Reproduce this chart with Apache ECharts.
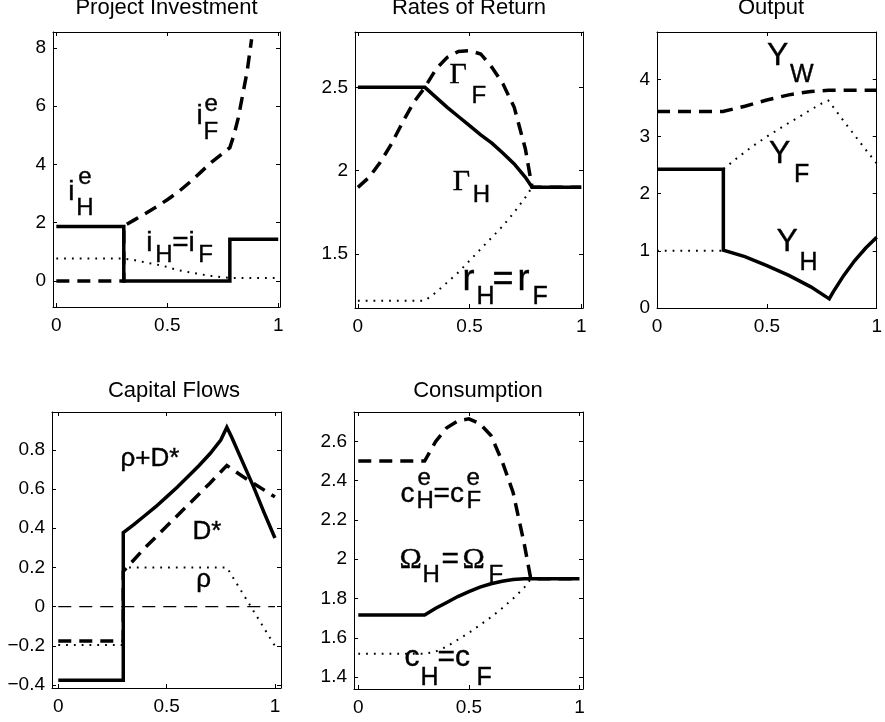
<!DOCTYPE html>
<html><head><meta charset="utf-8">
<script src="https://cdn.jsdelivr.net/npm/echarts@6/dist/echarts.min.js"></script>
<style>html,body{margin:0;padding:0;background:#fff}#c{width:885px;height:722px}</style>
</head><body><div id="c"></div>
<script>
// ================= DATA =================
const titles = ['Project Investment', 'Rates of Return', 'Output', 'Capital Flows', 'Consumption'];

const xTickValues = [0, 0.5, 1];
const xTickLabels = ['0', '0.5', '1'];

const invYTickValues = [0, 2, 4, 6, 8];
const invYTickLabels = ['0', '2', '4', '6', '8'];
const rorYTickValues = [1.5, 2, 2.5];
const rorYTickLabels = ['1.5', '2', '2.5'];
const outYTickValues = [0, 1, 2, 3, 4];
const outYTickLabels = ['0', '1', '2', '3', '4'];
const cfYTickValues = [-0.4, -0.2, 0, 0.2, 0.4, 0.6, 0.8];
const cfYTickLabels = ['\u22120.4', '\u22120.2', '0', '0.2', '0.4', '0.6', '0.8'];
const conYTickValues = [1.4, 1.6, 1.8, 2, 2.2, 2.4, 2.6];
const conYTickLabels = ['1.4', '1.6', '1.8', '2', '2.2', '2.4', '2.6'];

// Panel 1: Project Investment
const invSolidX = [0, 0.304, 0.304, 0.782, 0.782, 1];
const invSolidY = [1.87, 1.87, 0, 0, 1.43, 1.43];
const iFeX = [0, 0.304, 0.304, 0.35, 0.4, 0.45, 0.5, 0.55, 0.6, 0.65, 0.7, 0.75, 0.782, 0.8, 0.82, 0.84, 0.86, 0.88];
const iFeY = [0, 0, 1.89, 2.09, 2.31, 2.54, 2.79, 3.06, 3.38, 3.73, 4.08, 4.38, 4.58, 5.0, 5.6, 6.4, 7.2, 8.3];
const invDotX = [0, 0.304, 0.35, 0.4, 0.45, 0.5, 0.55, 0.6, 0.65, 0.7, 0.75, 0.782, 1];
const invDotY = [0.77, 0.77, 0.72, 0.64, 0.57, 0.48, 0.37, 0.3, 0.23, 0.17, 0.13, 0.1, 0.1];

// Panel 2: Rates of Return
const gHX = [0, 0.3, 0.35, 0.4, 0.45, 0.5, 0.55, 0.6, 0.65, 0.7, 0.75, 0.78, 1];
const gHY = [2.5, 2.5, 2.44, 2.38, 2.325, 2.27, 2.215, 2.165, 2.105, 2.04, 1.96, 1.9, 1.9];
const gFX = [0, 0.05, 0.1, 0.15, 0.2, 0.25, 0.3, 0.35, 0.4, 0.45, 0.5, 0.55, 0.6, 0.65, 0.7, 0.75, 0.78, 1];
const gFY = [1.9, 1.96, 2.05, 2.16, 2.29, 2.41, 2.5, 2.61, 2.68, 2.715, 2.72, 2.7, 2.62, 2.52, 2.38, 2.13, 1.9, 1.9];
const rX = [0, 0.3, 0.35, 0.4, 0.45, 0.5, 0.55, 0.6, 0.65, 0.7, 0.75, 0.78, 1];
const rY = [1.22, 1.22, 1.27, 1.33, 1.39, 1.46, 1.53, 1.6, 1.67, 1.75, 1.84, 1.9, 1.9];

// Panel 3: Output
const yHX = [0, 0.302, 0.302, 0.4, 0.5, 0.6, 0.7, 0.784, 0.8, 0.85, 0.9, 0.95, 1];
const yHY = [2.43, 2.43, 1.01, 0.9, 0.74, 0.57, 0.37, 0.16, 0.27, 0.57, 0.83, 1.05, 1.24];
const yWX = [0, 0.3, 0.4, 0.5, 0.6, 0.7, 0.78, 1];
const yWY = [3.44, 3.44, 3.53, 3.64, 3.73, 3.79, 3.81, 3.81];
const yFX = [0, 0.302, 0.302, 0.35, 0.4, 0.45, 0.5, 0.55, 0.6, 0.65, 0.7, 0.75, 0.78, 0.85, 0.9, 0.95, 1];
const yFY = [1.0, 1.0, 2.43, 2.58, 2.73, 2.87, 3.0, 3.12, 3.24, 3.35, 3.47, 3.58, 3.63, 3.27, 3.02, 2.77, 2.53];

// Panel 4: Capital Flows
const rdX = [0, 0.3, 0.3, 0.35, 0.4, 0.45, 0.5, 0.55, 0.6, 0.65, 0.7, 0.75, 0.778, 0.8, 0.85, 0.9, 0.95, 1];
const rdY = [-0.375, -0.375, 0.378, 0.42, 0.465, 0.51, 0.56, 0.61, 0.665, 0.72, 0.78, 0.85, 0.915, 0.865, 0.74, 0.615, 0.48, 0.35];
const dsX = [0, 0.3, 0.3, 0.4, 0.5, 0.6, 0.7, 0.778, 0.85, 0.9, 1];
const dsY = [-0.175, -0.175, 0.18, 0.3, 0.41, 0.52, 0.63, 0.72, 0.665, 0.63, 0.56];
const rhoX = [0, 0.3, 0.3, 0.778, 1];
const rhoY = [-0.195, -0.195, 0.2, 0.2, -0.2];
const zeroX = [0, 1];
const zeroY = [0, 0];

// Panel 5: Consumption
const ceX = [0, 0.3, 0.35, 0.4, 0.45, 0.5, 0.55, 0.6, 0.65, 0.7, 0.75, 0.78, 1];
const ceY = [2.5, 2.5, 2.6, 2.67, 2.705, 2.715, 2.69, 2.63, 2.5, 2.34, 2.08, 1.9, 1.9];
const omX = [0, 0.3, 0.35, 0.4, 0.45, 0.5, 0.55, 0.6, 0.65, 0.7, 0.75, 0.78, 1];
const omY = [1.716, 1.716, 1.75, 1.78, 1.81, 1.835, 1.858, 1.875, 1.888, 1.897, 1.9, 1.9, 1.9];
const cX = [0, 0.3, 0.35, 0.4, 0.45, 0.5, 0.55, 0.6, 0.65, 0.7, 0.75, 0.78, 1];
const cY = [1.518, 1.518, 1.53, 1.555, 1.59, 1.625, 1.665, 1.705, 1.75, 1.8, 1.855, 1.9, 1.9];

// ================= LAYOUT / STYLE =================
const FONT = '"Liberation Sans", Arial, Helvetica, sans-serif';
const SERIF = '"Liberation Serif", "Times New Roman", serif';

const panels = [
  { grid: {left: 53, top: 32, width: 227, height: 275}, x: [-0.015, 1.008], y: [-0.894, 8.55], yv: invYTickValues, yl: invYTickLabels, tx: 166.5, ty: -3 },
  { grid: {left: 355, top: 32, width: 228, height: 276}, x: [-0.013, 1.008], y: [1.176, 2.832], yv: rorYTickValues, yl: rorYTickLabels, tx: 469, ty: -3 },
  { grid: {left: 657, top: 32, width: 226, height: 276}, x: [0, 1], y: [0, 4.83], yv: outYTickValues, yl: outYTickLabels, tx: 771, ty: -3 },
  { grid: {left: 52, top: 412, width: 229, height: 276}, x: [-0.029, 1.028], y: [-0.415, 0.993], yv: cfYTickValues, yl: cfYTickLabels, tx: 174, ty: 380 },
  { grid: {left: 354, top: 412, width: 229, height: 277}, x: [-0.0194, 1.016], y: [1.339, 2.75], yv: conYTickValues, yl: conYTickLabels, tx: 478, ty: 380 }
];

function labelFor(vals, labs, v) {
  for (let k = 0; k < vals.length; k++) if (Math.abs(vals[k] - v) < 1e-9) return labs[k];
  return '';
}

const grids = [], xAxes = [], yAxes = [], series = [], graphics = [];
const axisLineStyle = {color: '#000', width: 1};
const TICK_FS = 19;

panels.forEach((p, i) => {
  grids.push(Object.assign({containLabel: false}, p.grid));
  [false, true].forEach(top => {
    xAxes.push({
      gridIndex: i, type: 'value', position: top ? 'top' : 'bottom', min: p.x[0], max: p.x[1],
      axisLine: {show: true, onZero: false, lineStyle: axisLineStyle},
      axisTick: {show: true, inside: true, length: 4, customValues: xTickValues, lineStyle: axisLineStyle},
      axisLabel: {show: !top, customValues: xTickValues, formatter: v => labelFor(xTickValues, xTickLabels, v),
        color: '#000', fontSize: TICK_FS, fontFamily: FONT, margin: 9},
      splitLine: {show: false}
    });
  });
  [false, true].forEach(right => {
    yAxes.push({
      gridIndex: i, type: 'value', position: right ? 'right' : 'left', min: p.y[0], max: p.y[1],
      axisLine: {show: true, onZero: false, lineStyle: axisLineStyle},
      axisTick: {show: true, inside: true, length: 4, customValues: p.yv, lineStyle: axisLineStyle},
      axisLabel: {show: !right, customValues: p.yv, formatter: v => labelFor(p.yv, p.yl, v),
        color: '#000', fontSize: TICK_FS, fontFamily: FONT, margin: 7},
      splitLine: {show: false}
    });
  });
  graphics.push({type: 'text', x: p.tx, y: p.ty, silent: true,
    style: {text: titles[i], align: 'center', verticalAlign: 'top', fontSize: 22, fontFamily: FONT, fill: '#000'}});
});

const STY = {
  solid: {width: 3.5, type: 'solid'},
  dashed: {width: 3.5, type: [13, 8]},
  dotted: {width: 2, type: [1.8, 6]},
  thin: {width: 1.2, type: [13, 8]}
};
function line(i, xs, ys, kind, z) {
  series.push({
    type: 'line', xAxisIndex: 2 * i, yAxisIndex: 2 * i,
    data: xs.map((x, k) => [x, ys[k]]),
    showSymbol: false, symbol: 'none', animation: false, silent: true, clip: true, z: z || 2,
    lineStyle: Object.assign({color: '#000', opacity: 1, cap: 'butt', join: 'miter'}, STY[kind])
  });
}
function anno(i, x, y, parts) {
  series.push({
    type: 'scatter', xAxisIndex: 2 * i, yAxisIndex: 2 * i, symbolSize: 1, silent: true, animation: false, z: 1,
    itemStyle: {color: 'rgba(0,0,0,0)', opacity: 1},
    emphasis: {disabled: true},
    data: parts.map(p => ({
      value: [x, y],
      itemStyle: {opacity: 1},
      label: {show: true, position: 'right', distance: 0, formatter: p[0], fontSize: p[1], opacity: 1,
        offset: [p[2], p[3]], fontFamily: p[4] || FONT, color: '#000',
        textBorderColor: '#000', textBorderWidth: 0.4}
    }))
  });
}

// Panel 1
line(0, invDotX, invDotY, 'dotted');
line(0, iFeX, iFeY, 'dashed', 3);
line(0, invSolidX, invSolidY, 'solid', 4);
anno(0, 0.051, 3.06, [['i', 28, 0, 0], ['e', 24, 10, -14], ['H', 24, 8, 17]]);
anno(0, 0.629, 5.65, [['i', 28, 0, 0], ['e', 24, 8, -12], ['F', 24, 7, 16]]);
anno(0, 0.403, 1.306, [['i', 28, 0, 0], ['H', 24, 9, 12], ['=i', 28, 26, 0], ['F', 24, 52, 12]]);

// Panel 2
line(1, rX, rY, 'dotted');
line(1, gFX, gFY, 'dashed', 3);
line(1, gHX, gHY, 'solid', 4);
anno(1, 0.408, 2.574, [['\u0393', 30, 0, 0, SERIF], ['F', 24, 22, 21]]);
anno(1, 0.422, 1.932, [['\u0393', 30, 0, 0, SERIF], ['H', 24, 20, 13]]);
anno(1, 0.466, 1.344, [['r', 36, 0, 0], ['H', 25, 14, 17], ['=', 36, 30, 0], ['r', 36, 55, 0], ['F', 25, 70, 17]]);

// Panel 3
line(2, yFX, yFY, 'dotted');
line(2, yWX, yWY, 'dashed', 3);
line(2, yHX, yHY, 'solid', 4);
anno(2, 0.498, 4.407, [['Y', 32, 0, 0], ['W', 25, 23, 19]]);
anno(2, 0.507, 2.688, [['Y', 32, 0, 0], ['F', 25, 25, 21]]);
anno(2, 0.542, 1.146, [['Y', 32, 0, 0], ['H', 25, 23, 21]]);

// Panel 4
line(3, zeroX, zeroY, 'thin');
line(3, rhoX, rhoY, 'dotted');
line(3, dsX, dsY, 'dashed', 3);
line(3, rdX, rdY, 'solid', 4);
anno(3, 0.285, 0.755, [['\u03C1+D*', 26, 0, 0]]);
anno(3, 0.617, 0.381, [['D*', 26, 0, 0]]);
anno(3, 0.635, 0.136, [['\u03C1', 26, 0, 0]]);

// Panel 5
line(4, cX, cY, 'dotted');
line(4, ceX, ceY, 'dashed', 3);
line(4, omX, omY, 'solid', 4);
anno(4, 0.189, 2.333, [['c', 28, 0, 0], ['e', 24, 17, -15], ['H', 24, 16, 8], ['=c', 28, 33, 0], ['e', 24, 66, -15], ['F', 24, 66, 8]]);
anno(4, 0.184, 1.996, [['\u03A9', 30, 0, 0, SERIF], ['H', 24, 23, 15], ['=', 30, 42, 0], ['\u03A9', 30, 63, 0, SERIF], ['F', 24, 89, 15]]);
anno(4, 0.207, 1.497, [['c', 30, 0, 0], ['H', 25, 16, 20], ['=c', 30, 33, 0], ['F', 25, 72, 20]]);

const chart = echarts.init(document.getElementById('c'), null, {renderer: 'canvas'});
chart.setOption({
  backgroundColor: '#fff',
  animation: false,
  grid: grids, xAxis: xAxes, yAxis: yAxes, series: series, graphic: graphics
});
</script>
</body></html>
